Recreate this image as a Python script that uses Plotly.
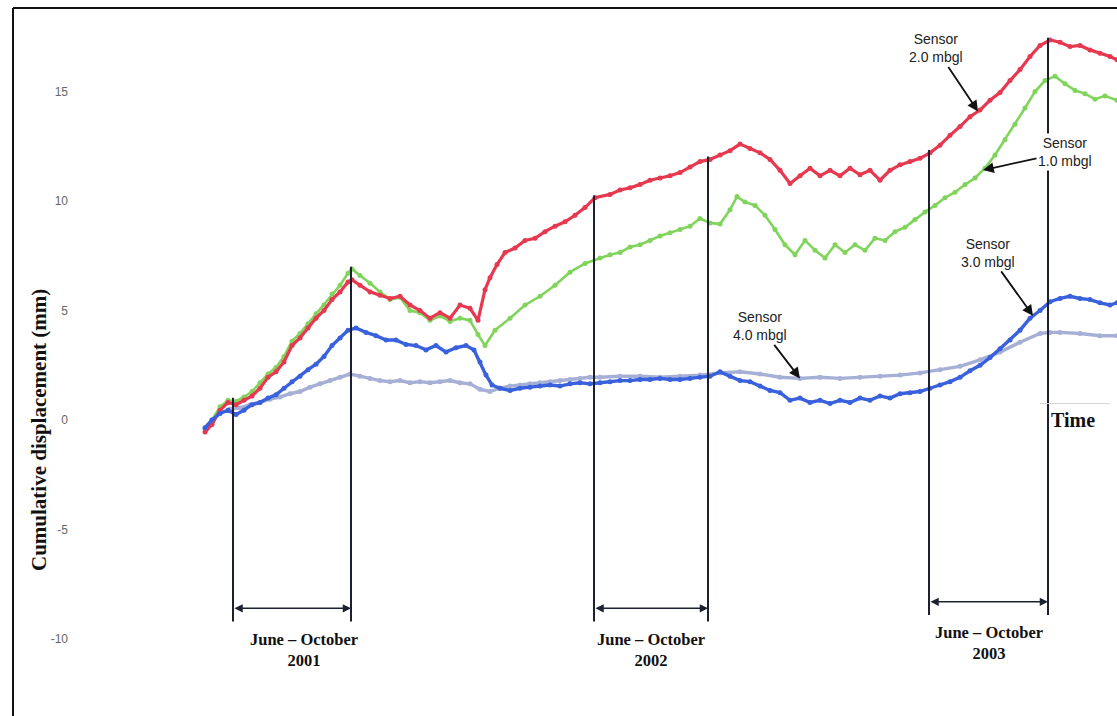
import numpy as np
import plotly.graph_objects as go

# ---------------- data (time in days since 1 Jan 2001, displacement in mm) ----------------
red_days = [123, 130, 138, 146, 154, 162, 170, 178, 186, 194, 202, 210, 218, 226, 234, 242, 250, 258, 266, 270,
            278, 288, 298, 308, 318, 328, 338, 348, 358, 368, 378, 388, 396, 403, 408, 415, 423, 433, 443, 453,
            463, 473, 483, 493, 503, 513, 528, 538, 548, 558, 568, 578, 588, 598, 608, 618, 628, 638, 648, 658,
            668, 678, 688, 698, 708, 718, 728, 738, 748, 758, 768, 778, 788, 798, 808, 818, 828, 838, 848, 858,
            868, 878, 888, 898, 908, 918, 928, 938, 948, 958, 968, 978, 988, 998, 1008, 1018, 1028, 1035]
red_vals = [-0.55, -0.2, 0.45, 0.8, 0.7, 0.9, 1.1, 1.45, 1.95, 2.2, 2.65, 3.4, 3.75, 4.2, 4.65, 5.0, 5.5, 5.85, 6.3, 6.4,
            6.15, 5.85, 5.7, 5.55, 5.65, 5.25, 5.0, 4.65, 4.9, 4.65, 5.25, 5.1, 4.55, 5.95, 6.5, 7.1, 7.65, 7.85, 8.2, 8.3,
            8.6, 8.85, 9.05, 9.35, 9.7, 10.15, 10.3, 10.5, 10.6, 10.75, 10.95, 11.05, 11.15, 11.3, 11.55, 11.8, 11.9, 12.1, 12.3, 12.6,
            12.4, 12.2, 11.9, 11.4, 10.8, 11.15, 11.5, 11.15, 11.4, 11.15, 11.5, 11.2, 11.4, 10.95, 11.4, 11.65, 11.8, 11.95, 12.2, 12.55,
            13.0, 13.4, 13.85, 14.15, 14.6, 14.95, 15.5, 16.0, 16.6, 17.1, 17.35, 17.25, 17.05, 17.1, 16.9, 16.75, 16.6, 16.45]

green_days = [123, 130, 138, 146, 154, 162, 170, 178, 186, 194, 202, 210, 218, 226, 234, 242, 250, 258, 266, 270,
              278, 288, 298, 308, 318, 328, 338, 348, 358, 368, 378, 388, 396, 403, 413, 428, 443, 458, 473, 488,
              503, 518, 528, 538, 548, 558, 568, 578, 588, 598, 608, 618, 628, 638, 648, 655, 663, 673, 683, 693,
              703, 713, 723, 733, 743, 753, 763, 773, 783, 793, 803, 813, 823, 833, 843, 853, 863, 873, 883, 893,
              903, 913, 923, 933, 943, 953, 963, 973, 983, 993, 1003, 1013, 1023, 1035]
green_vals = [-0.4, 0.0, 0.6, 0.9, 0.85, 1.05, 1.3, 1.7, 2.1, 2.4, 2.9, 3.6, 3.95, 4.4, 4.85, 5.25, 5.75, 6.15, 6.7, 6.9,
              6.6, 6.25, 5.85, 5.5, 5.6, 5.0, 4.9, 4.55, 4.75, 4.5, 4.65, 4.55, 3.9, 3.4, 4.1, 4.65, 5.25, 5.65, 6.15, 6.75,
              7.15, 7.4, 7.55, 7.65, 7.9, 8.0, 8.2, 8.4, 8.55, 8.7, 8.85, 9.2, 9.0, 8.95, 9.6, 10.2, 9.95, 9.8, 9.35, 8.7,
              8.0, 7.55, 8.2, 7.75, 7.4, 8.0, 7.65, 8.0, 7.75, 8.3, 8.2, 8.6, 8.8, 9.15, 9.5, 9.8, 10.15, 10.4, 10.75, 11.05,
              11.5, 12.1, 12.8, 13.5, 14.25, 15.0, 15.5, 15.7, 15.35, 15.05, 14.9, 14.65, 14.8, 14.6]

blue_days = [123, 130, 138, 146, 154, 162, 170, 178, 186, 194, 202, 210, 218, 226, 234, 242, 250, 258, 266, 274,
             284, 294, 304, 314, 324, 334, 344, 354, 364, 374, 384, 392, 398, 404, 410, 418, 428, 438, 448, 458,
             468, 478, 488, 498, 508, 518, 528, 538, 548, 558, 568, 578, 588, 598, 608, 618, 628, 638, 648, 658,
             668, 678, 688, 698, 708, 718, 728, 738, 748, 758, 768, 778, 788, 798, 808, 818, 828, 838, 848, 858,
             868, 878, 888, 898, 908, 918, 928, 938, 948, 958, 968, 978, 988, 998, 1008, 1018, 1028, 1035]
blue_vals = [-0.35, 0.0, 0.3, 0.45, 0.25, 0.45, 0.7, 0.8, 1.0, 1.15, 1.45, 1.75, 2.0, 2.3, 2.55, 2.9, 3.4, 3.75, 4.1, 4.2,
             4.0, 3.85, 3.65, 3.65, 3.45, 3.4, 3.2, 3.4, 3.1, 3.3, 3.4, 3.2, 2.65, 2.05, 1.6, 1.45, 1.35, 1.45, 1.5, 1.55,
             1.6, 1.55, 1.65, 1.7, 1.65, 1.7, 1.75, 1.8, 1.8, 1.85, 1.85, 1.9, 1.85, 1.85, 1.9, 1.95, 2.0, 2.2, 2.0, 1.8,
             1.75, 1.55, 1.35, 1.25, 0.9, 1.0, 0.8, 0.9, 0.75, 0.9, 0.8, 1.0, 0.9, 1.1, 1.0, 1.2, 1.25, 1.3, 1.45, 1.6,
             1.75, 1.95, 2.25, 2.5, 2.85, 3.25, 3.65, 4.1, 4.65, 5.0, 5.4, 5.55, 5.65, 5.55, 5.5, 5.35, 5.25, 5.35]

grey_days = [148, 158, 168, 178, 188, 198, 208, 218, 228, 238, 248, 258, 268, 278, 288, 298, 308, 318, 328, 338,
             348, 358, 368, 378, 388, 398, 408, 418, 428, 438, 448, 458, 468, 478, 488, 498, 508, 518, 538, 558,
             578, 598, 618, 638, 658, 678, 698, 718, 738, 758, 778, 798, 818, 838, 858, 878, 898, 918, 938, 958,
             968, 978, 998, 1018, 1035]
grey_vals = [0.5, 0.55, 0.7, 0.8, 0.95, 1.05, 1.2, 1.3, 1.5, 1.65, 1.8, 1.95, 2.1, 2.0, 1.9, 1.8, 1.75, 1.8, 1.7, 1.75,
             1.7, 1.75, 1.8, 1.7, 1.65, 1.4, 1.3, 1.45, 1.55, 1.6, 1.65, 1.7, 1.75, 1.8, 1.85, 1.9, 1.95, 1.95, 2.0, 2.0,
             1.95, 2.0, 2.05, 2.15, 2.2, 2.1, 1.95, 1.9, 1.95, 1.9, 1.95, 2.0, 2.05, 2.15, 2.3, 2.45, 2.75, 3.1, 3.55, 3.95,
             4.0, 4.0, 3.95, 3.85, 3.85]

period_start = [151, 512, 847]     # June
period_end = [269, 626, 966]       # October
period_years = ["2001", "2002", "2003"]
period_bottom = [-9.2, -9.2, -8.9]
period_arrow = [-8.6, -8.6, -8.3]

y_ticks = [-10, -5, 0, 5, 10, 15]
y_ticktext = ["-10", "-5", "0", "5", "10", "15"]

sensor_labels = ["Sensor<br>2.0 mbgl", "Sensor<br>1.0 mbgl", "Sensor<br>3.0 mbgl", "Sensor<br>4.0 mbgl"]
sensor_point_day = [896, 901, 951, 718]

for d, v in [(red_days, red_vals), (green_days, green_vals), (blue_days, blue_vals), (grey_days, grey_vals)]:
    assert len(d) == len(v), (len(d), len(v))

# ---------------- figure ----------------
W, H = 1117, 716
ML = 72
RED, GREEN, BLUE, GREY = "#e6394f", "#80d45c", "#3a61dd", "#a6b0d6"
SERIES = [
    (grey_days, grey_vals, GREY, 3.4),
    (green_days, green_vals, GREEN, 2.6),
    (red_days, red_vals, RED, 3.2),
    (blue_days, blue_vals, BLUE, 3.4),
]

fig = go.Figure()
for d, v, c, w in SERIES:
    fig.add_trace(go.Scatter(
        x=d, y=v, mode="lines+markers",
        line=dict(color=c, width=w),
        marker=dict(color=c, size=5),
        hoverinfo="skip", showlegend=False,
    ))

all_series = [(red_days, red_vals), (green_days, green_vals), (blue_days, blue_vals), (grey_days, grey_vals)]

def top_at(day):
    return max(np.interp(day, d, v) for d, v in all_series) + 0.15

shapes = []
annotations = []
LINE_C = "#1d2030"
serif = "Liberation Serif, Times New Roman, serif"
sans = "Liberation Sans, Arial, sans-serif"

label_shift = [12, 0, 0]
for s, e, yr, yb, ya, sh in zip(period_start, period_end, period_years, period_bottom, period_arrow, label_shift):
    for day in (s, e):
        shapes.append(dict(type="line", xref="x", yref="y", x0=day, x1=day,
                           y0=yb, y1=top_at(day), line=dict(color=LINE_C, width=2)))
    annotations.append(dict(x=e, y=ya, ax=s, ay=ya, xref="x", yref="y", axref="x", ayref="y",
                            text="", showarrow=True, arrowhead=2, arrowside="end+start",
                            arrowsize=1.1, arrowwidth=1.5, arrowcolor=LINE_C))
    annotations.append(dict(x=(s + e) / 2, y=yb - 0.3, xref="x", yref="y", yanchor="top",
                            xshift=sh, text="<b>June – October<br>" + yr + "</b>", showarrow=False,
                            font=dict(family=serif, size=16.5, color="#111")))

# sensor call-outs
offsets = [(-42, -63), (82, -18), (-45, -63), (-40, -52)]
for lab, day, (d, v), (ax, ay) in zip(sensor_labels, sensor_point_day, all_series, offsets):
    annotations.append(dict(x=day, y=float(np.interp(day, d, v)), xref="x", yref="y",
                            ax=ax, ay=ay, text=lab, showarrow=True, arrowhead=2,
                            arrowsize=1.2, arrowwidth=1.8, arrowcolor="#111",
                            bgcolor="white", borderpad=1,
                            font=dict(family=sans, size=14, color="#222")))

# "Time" label
annotations.append(dict(x=967, y=0.0, xref="x", yref="y", xanchor="left", yanchor="middle",
                        text="<b>Time</b>", showarrow=False,
                        font=dict(family=serif, size=20, color="#111")))
shapes.append(dict(type="line", xref="x", yref="y", x0=958, x1=1028, y0=0.75, y1=0.75,
                   line=dict(color="#d6d6d6", width=1)))

# y-axis title
annotations.append(dict(x=(25 - ML) / (W - ML), y=1 - 430 / H, xref="paper", yref="paper",
                        text="<b>Cumulative displacement (mm)</b>", textangle=-90, showarrow=False,
                        font=dict(family=serif, size=21, color="#111")))

# frame (left and top edges of the scanned figure box)
shapes.append(dict(type="line", xref="paper", yref="paper",
                   x0=(13 - ML) / (W - ML), x1=(13 - ML) / (W - ML), y0=1 - 8 / H, y1=-0.05,
                   line=dict(color="#111", width=2)))
shapes.append(dict(type="line", xref="paper", yref="paper",
                   x0=(13 - ML) / (W - ML), x1=1.05, y0=1 - 8 / H, y1=1 - 8 / H,
                   line=dict(color="#111", width=2)))

PX_PER_MM = 21.9
ZERO_PX = 420
Y_RANGE = [(ZERO_PX - H) / PX_PER_MM, ZERO_PX / PX_PER_MM]
fig.update_layout(
    width=W, height=H,
    margin=dict(l=ML, r=0, t=0, b=0),
    paper_bgcolor="white", plot_bgcolor="white",
    xaxis=dict(range=[ML - 82, W - 82], showgrid=False, zeroline=False, showline=False,
               showticklabels=False, ticks=""),
    yaxis=dict(range=Y_RANGE, autorange=False,
               showgrid=False, zeroline=False, showline=False,
               tickvals=y_ticks, ticktext=y_ticktext, ticks="",
               tickfont=dict(family=sans, size=12, color="#666"), ticklabelstandoff=3),
    shapes=shapes,
    annotations=annotations,
)

fig.write_html("out.html", config={"displayModeBar": False},
               post_script="document.body.style.margin='0';document.body.style.overflow='hidden';")
